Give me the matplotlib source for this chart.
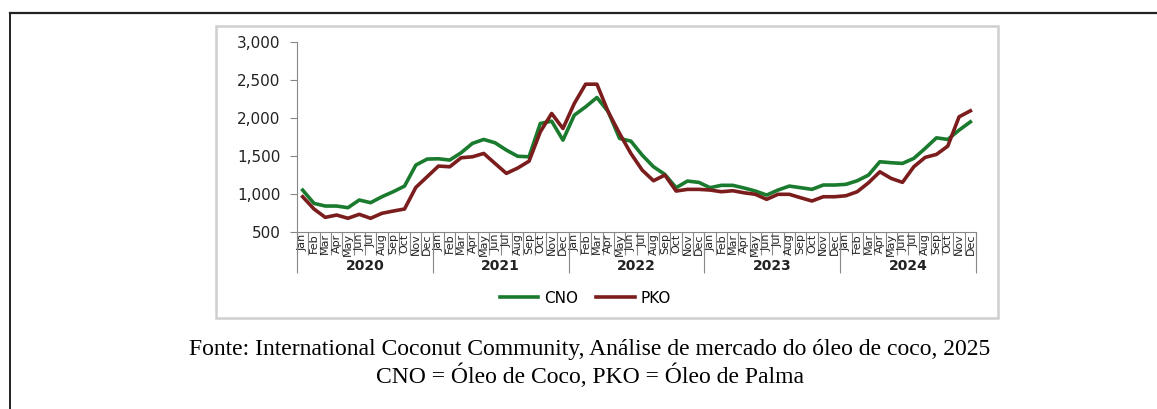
import matplotlib
matplotlib.use("Agg")
import matplotlib.pyplot as plt
from matplotlib.patches import Rectangle
from matplotlib.lines import Line2D
from matplotlib.ticker import FuncFormatter

# dados (preço mensal, 2020-2024)
meses = ["Jan", "Feb", "Mar", "Apr", "May", "Jun",
         "Jul", "Aug", "Sep", "Oct", "Nov", "Dec"]
anos = ["2020", "2021", "2022", "2023", "2024"]

cno = [1050, 876, 841, 841, 819, 920, 885, 963, 1029, 1103, 1379, 1458,
       1462, 1445, 1541, 1664, 1716, 1672, 1576, 1495, 1488, 1926, 1956, 1707,
       2035, 2144, 2267, 2080, 1729, 1694, 1510, 1357, 1257, 1082, 1169, 1152,
       1082, 1113, 1113, 1078, 1038, 985, 1051, 1103, 1082, 1060, 1117, 1117,
       1126, 1173, 1248, 1423, 1410, 1401, 1467, 1598, 1737, 1716, 1838, 1947]

pko = [963, 802, 692, 723, 680, 732, 680, 745, 775, 802, 1086, 1226,
       1366, 1357, 1475, 1488, 1532, 1400, 1270, 1340, 1430, 1816, 2057, 1860,
       2188, 2442, 2442, 2078, 1795, 1532, 1313, 1173, 1248, 1038, 1060, 1060,
       1051, 1029, 1042, 1015, 995, 929, 995, 995, 950, 907, 963, 963,
       976, 1029, 1147, 1291, 1204, 1152, 1357, 1480, 1519, 1628, 2013, 2092]

fig = plt.figure(figsize=(11.57, 4.09), dpi=100)

# moldura externa (linha de cima e da esquerda)
fig.add_artist(Line2D([0.0086, 1.0], [0.9694, 0.9694], color="#222222", lw=1.6))
fig.add_artist(Line2D([0.0086, 0.0086], [0.0, 0.9694], color="#222222", lw=1.4))

# caixa cinza do gráfico
fig.add_artist(Rectangle((0.1863, 0.2232), 0.6762, 0.7139, transform=fig.transFigure,
                         facecolor="white", edgecolor="#cfcfcf", lw=1.8, zorder=0))

ax = fig.add_axes([0.2567, 0.4328, 0.5869, 0.4652])
x = list(range(len(cno)))
ax.plot(x, cno, color="#1a7a2e", lw=2.6, label="CNO")
ax.plot(x, pko, color="#7b1d1d", lw=2.6, label="PKO")

ax.set_ylim(500, 3000)
ax.set_yticks([500, 1000, 1500, 2000, 2500, 3000])
ax.yaxis.set_major_formatter(FuncFormatter(lambda v, p: f"{int(v):,}"))
ax.tick_params(axis="y", length=5, width=0.8, color="#888888", pad=7,
               labelsize=11, labelcolor="#222222")

ax.set_xlim(-0.5, len(cno) - 0.5)
limites = [i - 0.5 for i in range(len(cno) + 1)]
ax.set_xticks(limites)
ax.set_xticklabels([""] * len(limites))
ax.tick_params(axis="x", which="major", length=16.5, width=0.8, color="#888888")
ax.set_xticks(x, minor=True)
ax.set_xticklabels(meses * len(anos), minor=True, rotation=90, fontsize=8,
                   color="#222222")
ax.tick_params(axis="x", which="minor", length=0, pad=1)
for lbl in ax.get_xticklabels(minor=True):
    lbl.set_verticalalignment("top")

for s in ["top", "right"]:
    ax.spines[s].set_visible(False)
ax.spines["left"].set_color("#888888")
ax.spines["bottom"].set_color("#888888")
ax.spines["left"].set_linewidth(0.8)
ax.spines["bottom"].set_linewidth(0.8)

# separadores e rótulos dos anos
trans = ax.get_xaxis_transform()
separadores = [12 * k - 0.5 for k in range(len(anos) + 1)]
ax.vlines(separadores, -0.2155, 0, transform=trans, color="#888888", lw=0.8,
          clip_on=False)
for k, ano in enumerate(anos):
    ax.text(12 * k + 5.5, -0.177, ano, transform=trans, ha="center", va="center",
            fontsize=10, fontweight="bold", color="#222222")

fig.legend(loc="center", bbox_to_anchor=(0.506, 0.271), ncol=2, frameon=False,
           fontsize=11, handlelength=2.5, columnspacing=1.2, handletextpad=0.4)

fig.text(0.51, 1 - 350 / 409,
         "Fonte: International Coconut Community, Análise de mercado do óleo de coco, 2025",
         ha="center", va="center", family="Liberation Serif", fontsize=17)
fig.text(0.51, 1 - 376 / 409, "CNO = Óleo de Coco, PKO = Óleo de Palma",
         ha="center", va="center", family="Liberation Serif", fontsize=17)

fig.savefig("out.png", dpi=100)
